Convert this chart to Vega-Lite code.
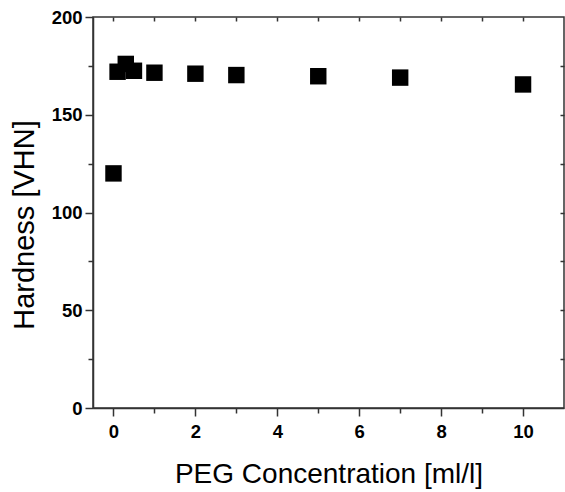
{
  "$schema": "https://vega.github.io/schema/vega-lite/v6.json",
  "width": 471,
  "height": 391,
  "autosize": {"type": "none"},
  "padding": {"left": 93, "top": 17, "right": 1, "bottom": 84},
  "background": "white",
  "config": {
    "view": {"stroke": "#333", "strokeWidth": 1.5},
    "font": "Liberation Sans"
  },
  "data": {"values": [
    {"peg": 0, "hardness": 120},
    {"peg": 0.1, "hardness": 172},
    {"peg": 0.3, "hardness": 176},
    {"peg": 0.5, "hardness": 172.5},
    {"peg": 1, "hardness": 171.5},
    {"peg": 2, "hardness": 171},
    {"peg": 3, "hardness": 170.3},
    {"peg": 5, "hardness": 169.7},
    {"peg": 7, "hardness": 169},
    {"peg": 10, "hardness": 165.5}
  ]},
  "layer": [
    {
      "mark": {"type": "point", "shape": "square", "filled": true, "color": "black", "opacity": 1, "size": 270},
      "encoding": {
        "x": {"field": "peg", "type": "quantitative",
          "scale": {"domain": [-0.5, 11], "nice": false, "zero": false},
          "axis": {"title": "PEG Concentration [ml/l]", "values": [0, 2, 4, 6, 8, 10], "grid": false,
            "domain": true, "domainColor": "#333", "domainWidth": 1.5,
            "tickColor": "#333", "tickSize": 8, "tickWidth": 1.5,
            "labelFont": "Liberation Sans", "labelFontWeight": "bold", "labelFontSize": 18.5, "labelColor": "black", "labelPadding": 6,
            "titleFont": "Liberation Sans", "titleFontWeight": "normal", "titleFontSize": 28, "titleColor": "black",
            "titleBaseline": "alphabetic", "titleY": 74}},
        "y": {"field": "hardness", "type": "quantitative",
          "scale": {"domain": [0, 200], "nice": false},
          "axis": {"title": "Hardness [VHN]", "values": [0, 50, 100, 150, 200], "grid": false,
            "domain": true, "domainColor": "#333", "domainWidth": 1.5,
            "tickColor": "#333", "tickSize": 8, "tickWidth": 1.5,
            "labelFont": "Liberation Sans", "labelFontWeight": "bold", "labelFontSize": 18.5, "labelColor": "black", "labelPadding": 3,
            "titleFont": "Liberation Sans", "titleFontWeight": "normal", "titleFontSize": 29, "titleColor": "black",
            "titleBaseline": "alphabetic", "titleX": -60, "titleY": 207.5, "titleAngle": -90}}
      }
    },
    {
      "mark": {"type": "point", "opacity": 0},
      "encoding": {
        "x": {"field": "peg", "type": "quantitative",
          "scale": {"domain": [-0.5, 11], "nice": false, "zero": false},
          "axis": {"orient": "bottom", "title": null, "labels": false, "domain": false, "values": [1, 3, 5, 7, 9], "tickColor": "#333", "tickSize": 5, "tickWidth": 1.5, "grid": false}},
        "y": {"field": "hardness", "type": "quantitative",
          "scale": {"domain": [0, 200], "nice": false},
          "axis": {"orient": "left", "title": null, "labels": false, "domain": false, "values": [25, 75, 125, 175], "tickColor": "#333", "tickSize": 5, "tickWidth": 1.5, "grid": false}}
      }
    },
    {
      "mark": {"type": "point", "opacity": 0},
      "encoding": {
        "x": {"field": "peg", "type": "quantitative",
          "scale": {"domain": [-0.5, 11], "nice": false, "zero": false},
          "axis": {"orient": "top", "title": null, "labels": false, "domain": false, "values": [0, 1, 2, 3, 4, 5, 6, 7, 8, 9, 10], "tickColor": "#333", "tickSize": -4, "tickWidth": 1.5, "grid": false}},
        "y": {"field": "hardness", "type": "quantitative",
          "scale": {"domain": [0, 200], "nice": false},
          "axis": {"orient": "right", "title": null, "labels": false, "domain": false, "values": [25, 50, 75, 100, 125, 150, 175], "tickColor": "#333", "tickSize": -4, "tickWidth": 1.5, "grid": false}}
      }
    }
  ],
  "resolve": {"axis": {"x": "independent", "y": "independent"}}
}
